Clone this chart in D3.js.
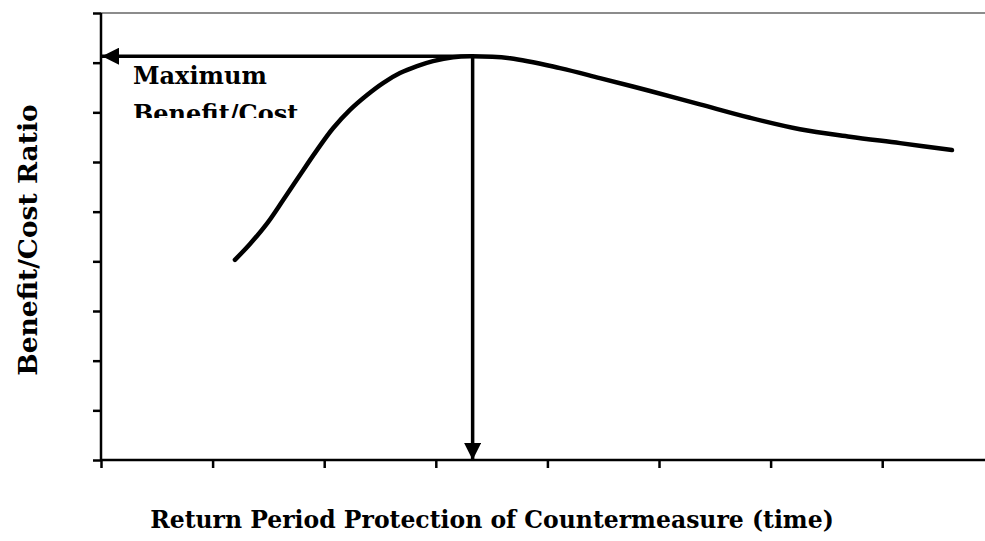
<!DOCTYPE html>
<html>
<head>
<meta charset="utf-8">
<script src="https://cdn.jsdelivr.net/npm/d3@7"></script>
<style>
  html, body { margin: 0; padding: 0; background: #fff; }
  svg { display: block; }
  text { font-family: "DejaVu Serif", serif; font-weight: bold; fill: #000; }
</style>
</head>
<body>
<svg id="chart" width="985" height="541"></svg>
<script>
// ---- data ----
const xTicks = [0, 1, 2, 3, 4, 5, 6, 7];
const yTicks = [0, 1, 2, 3, 4, 5, 6, 7, 8, 9];
const curveX = [1.20, 1.335, 1.487, 1.631, 1.783, 1.935, 2.079, 2.231, 2.384, 2.527, 2.679, 2.832, 2.975, 3.154, 3.306, 3.665, 4.113, 4.47, 4.92, 5.367, 5.815, 6.263, 6.71, 7.16, 7.625];
const curveY = [4.03, 4.35, 4.76, 5.23, 5.74, 6.24, 6.68, 7.05, 7.35, 7.59, 7.79, 7.93, 8.03, 8.11, 8.13, 8.09, 7.89, 7.69, 7.43, 7.16, 6.89, 6.66, 6.51, 6.38, 6.24];
const peakX = 3.33;
const peakY = 8.13;
const annotationLines = ["Maximum", "Benefit/Cost"];
const xTitle = "Return Period Protection of Countermeasure (time)";
const yTitle = "Benefit/Cost Ratio";

// ---- layout ----
const svg = d3.select("#chart");
const mLeft = 101, mRight = 985, mTop = 13, mBottom = 460;
const x = d3.scaleLinear().domain([0, 7.921]).range([mLeft, mRight]);
const y = d3.scaleLinear().domain([0, 9]).range([mBottom, mTop]);

// top border line (gray)
svg.append("line")
  .attr("x1", x(0)).attr("x2", x(7.921))
  .attr("y1", y(9)).attr("y2", y(9))
  .attr("stroke", "#8c8c8c").attr("stroke-width", 2);

// axes
const xAxis = d3.axisBottom(x).tickValues(xTicks).tickSize(8).tickFormat("");
const yAxis = d3.axisLeft(y).tickValues(yTicks).tickSize(8).tickFormat("");
const gx = svg.append("g").attr("transform", `translate(0,${mBottom})`).call(xAxis);
const gy = svg.append("g").attr("transform", `translate(${mLeft},0)`).call(yAxis);
[gx, gy].forEach(g => {
  g.select(".domain").attr("stroke", "#000").attr("stroke-width", 2.5);
  g.selectAll(".tick line").attr("stroke", "#000").attr("stroke-width", 2.5);
});
gx.select(".domain").attr("d", `M${mLeft},0H${mRight}`);
gy.select(".domain").attr("d", `M0,${mTop}V${mBottom}`);

// arrow markers
const defs = svg.append("defs");
defs.append("marker")
  .attr("id", "arrow")
  .attr("viewBox", "0 0 10 10")
  .attr("refX", 10).attr("refY", 5)
  .attr("markerUnits", "userSpaceOnUse")
  .attr("markerWidth", 22).attr("markerHeight", 17)
  .attr("orient", "auto")
  .append("path").attr("d", "M0,0L10,5L0,10Z").attr("fill", "#000");

// curve
const pts = curveX.map((d, i) => [d, curveY[i]]);
svg.append("path")
  .datum(pts)
  .attr("fill", "none")
  .attr("stroke", "#000")
  .attr("stroke-width", 4.5)
  .attr("stroke-linecap", "round")
  .attr("stroke-linejoin", "round")
  .attr("d", d3.line().x(d => x(d[0])).y(d => y(d[1])).curve(d3.curveCatmullRom.alpha(0.5)));

// arrows from maximum
svg.append("line")
  .attr("x1", x(peakX)).attr("y1", y(peakY))
  .attr("x2", x(0) + 1).attr("y2", y(peakY))
  .attr("stroke", "#000").attr("stroke-width", 3.5)
  .attr("marker-end", "url(#arrow)");
svg.append("line")
  .attr("x1", x(peakX)).attr("y1", y(peakY))
  .attr("x2", x(peakX)).attr("y2", y(0))
  .attr("stroke", "#000").attr("stroke-width", 3.5)
  .attr("marker-end", "url(#arrow)");

// annotation text (clipped at bottom like the reference)
defs.append("clipPath").attr("id", "annClip")
  .append("rect").attr("x", 120).attr("y", 60).attr("width", 300).attr("height", 58);
const ann = svg.append("g").attr("clip-path", "url(#annClip)");
ann.selectAll("text").data(annotationLines).join("text")
  .attr("x", 133)
  .attr("y", (d, i) => 84 + i * 38)
  .attr("font-size", 24)
  .text(d => d);

// axis titles
svg.append("text")
  .attr("x", 492).attr("y", 528)
  .attr("text-anchor", "middle")
  .attr("font-size", 23.5)
  .text(xTitle);
svg.append("text")
  .attr("transform", "translate(37,240) rotate(-90)")
  .attr("text-anchor", "middle")
  .attr("font-size", 26.5)
  .text(yTitle);
</script>
</body>
</html>
